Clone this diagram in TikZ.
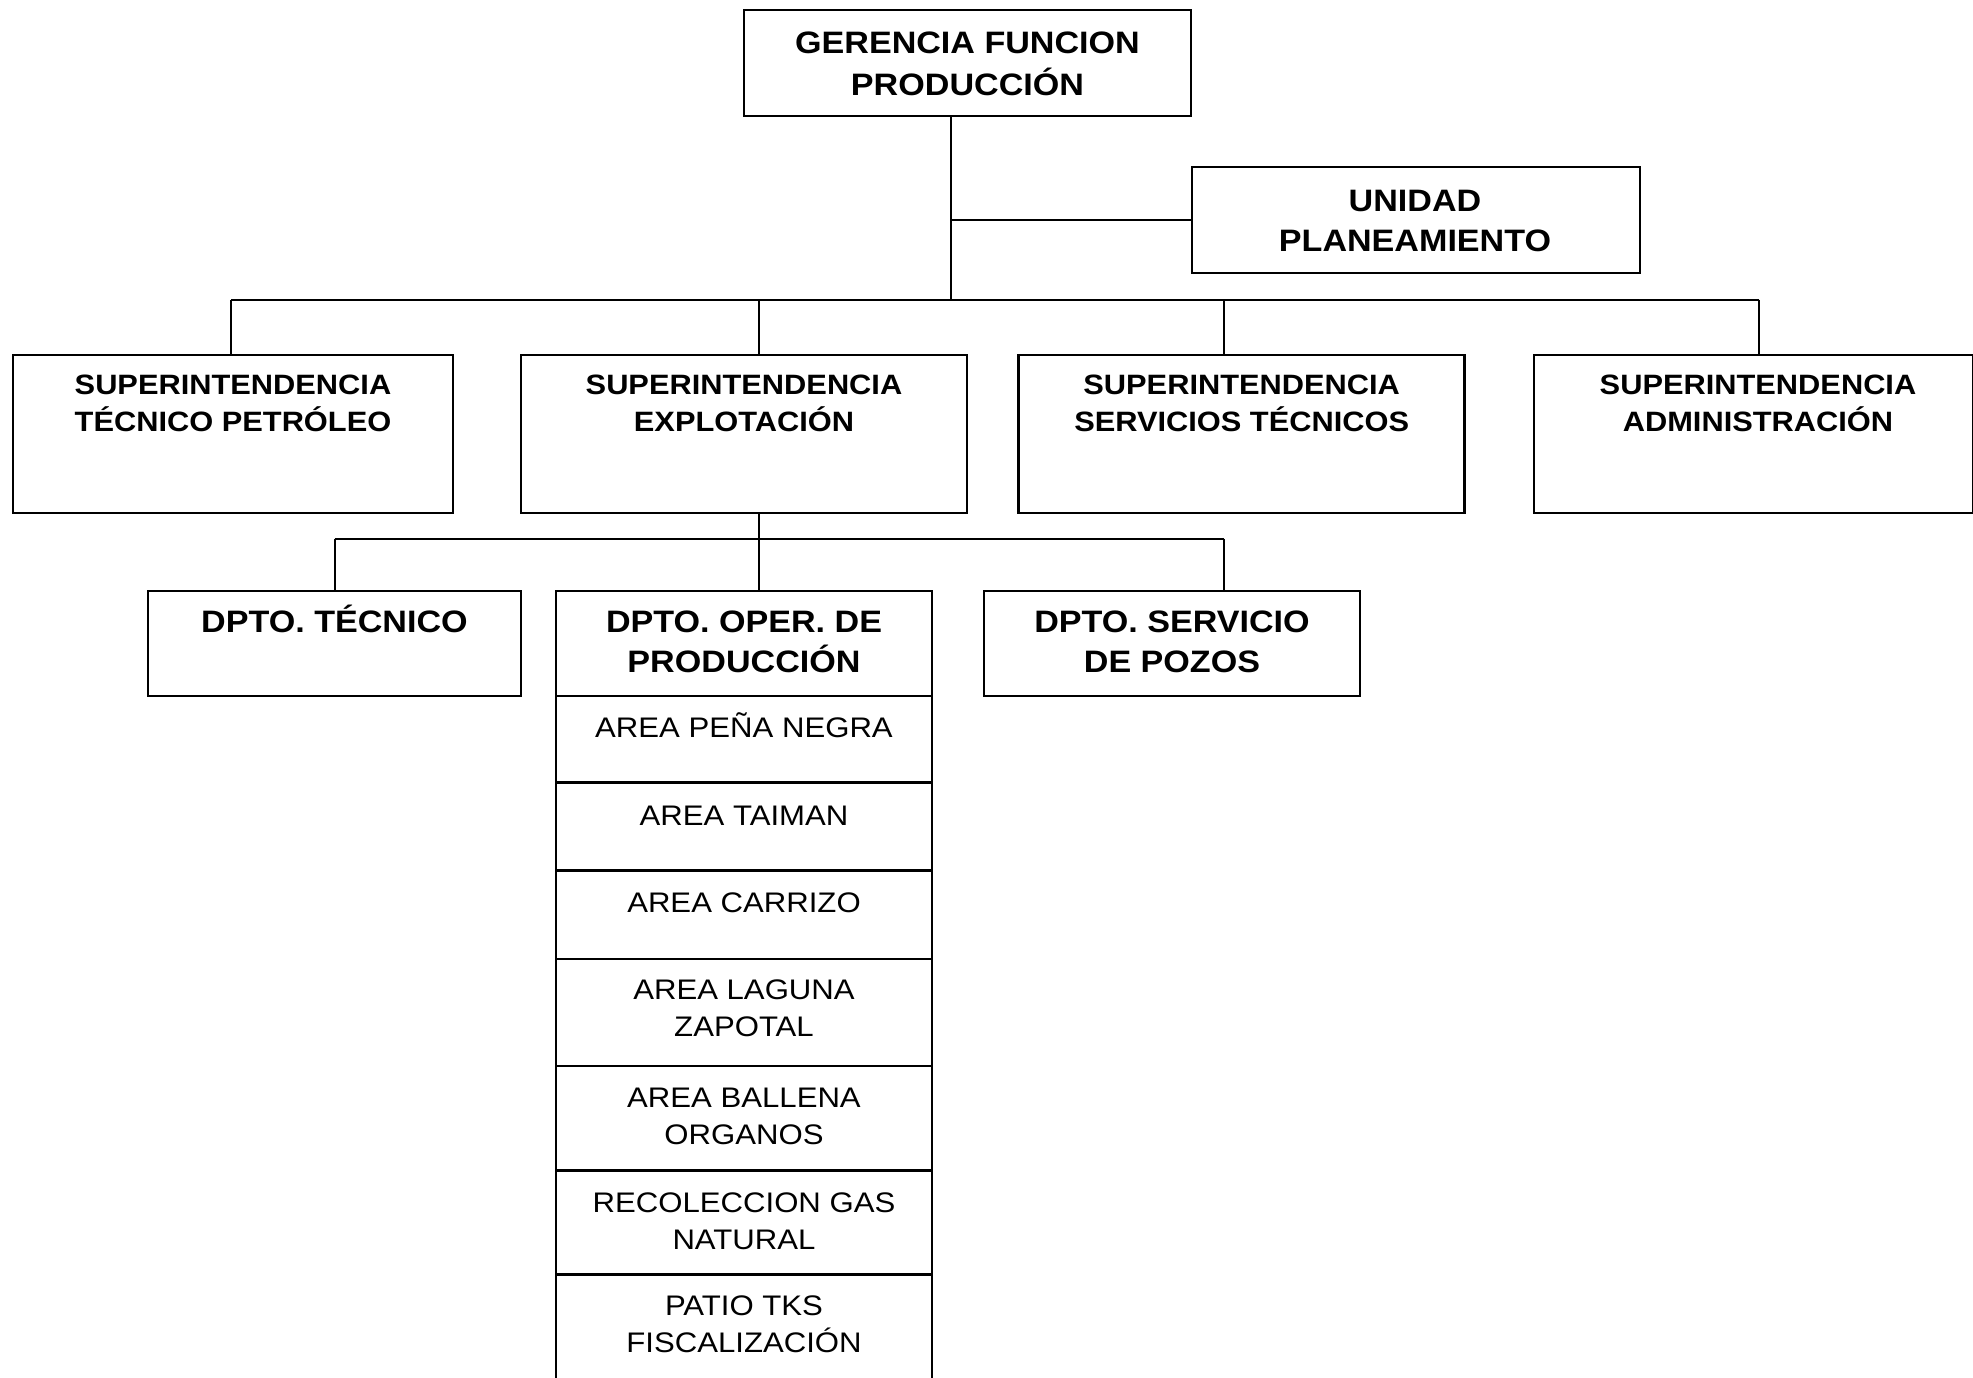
\documentclass[tikz,border=0pt]{standalone}
\usepackage{fontspec}
\setmainfont{Liberation Sans}[FakeStretch=1.1]
\newcommand\tstrut{\rule{0pt}{32pt}}
\begin{document}
\begin{tikzpicture}[x=1pt,y=-1pt,
  box/.style={draw=black,line width=2.6pt,rectangle,inner sep=0pt},
  link/.style={draw=black,line width=2pt},
  bigtxt/.style={font=\bfseries\fontsize{31}{41}\selectfont,align=center,inner sep=0pt,anchor=north},
  midtxt/.style={font=\bfseries\fontsize{28}{37.5}\selectfont,align=center,inner sep=0pt,anchor=north},
  areatxt/.style={font=\fontsize{28.3}{37}\selectfont,align=center,inner sep=0pt,anchor=north}]
\fill[white] (0,0) rectangle (1973,1378);
\useasboundingbox (0,0) rectangle (1973,1378);
% boxes
\node[box,minimum width=447,minimum height=106] (g) at (967.5,63) {};
\node[box,minimum width=448,minimum height=106] (u) at (1416,220) {};
\node[box,minimum width=440,minimum height=158] (b1) at (233,434) {};
\node[box,minimum width=446,minimum height=158] (b2) at (744,434) {};
\node[box,minimum width=446,minimum height=158] (b3) at (1241.7,434) {};
\node[box,minimum width=439,minimum height=158] (b4) at (1753.5,434) {};
\node[box,minimum width=373,minimum height=105] (c1) at (334.5,643.5) {};
\node[box,minimum width=376,minimum height=105] (c2) at (744,643.5) {};
\node[box,minimum width=376,minimum height=105] (c3) at (1172,643.5) {};
% stack under c2
\node[box,minimum width=376,minimum height=86.7] (s1) at (744,739.35) {};
\node[box,minimum width=376,minimum height=88] (s2) at (744,826.7) {};
\node[box,minimum width=376,minimum height=88.1] (s3) at (744,914.75) {};
\node[box,minimum width=376,minimum height=107] (s4) at (744,1012.3) {};
\node[box,minimum width=376,minimum height=104.4] (s5) at (744,1118) {};
\node[box,minimum width=376,minimum height=104.5] (s6) at (744,1222.45) {};
\node[box,minimum width=376,minimum height=107.3] (s7) at (744,1328.35) {};
% texts
\node[bigtxt,font=\bfseries\fontsize{31}{41.6}\selectfont] (tg) at (967.5,21.3) {\tstrut GERENCIA FUNCION\\PRODUCCIÓN};
\node[bigtxt,font=\bfseries\fontsize{31}{40}\selectfont] (tu) at (1415,179.7) {\tstrut UNIDAD\\PLANEAMIENTO};
\node[midtxt] (tb1) at (233,362) {\tstrut SUPERINTENDENCIA\\TÉCNICO PETRÓLEO};
\node[midtxt] (tb2) at (744,362) {\tstrut SUPERINTENDENCIA\\EXPLOTACIÓN};
\node[midtxt] (tb3) at (1241.7,362) {\tstrut SUPERINTENDENCIA\\SERVICIOS TÉCNICOS};
\node[midtxt] (tb4) at (1758,362) {\tstrut SUPERINTENDENCIA\\ADMINISTRACIÓN};
\node[bigtxt,font=\bfseries\fontsize{31}{40}\selectfont] (tc1) at (334.5,600.5) {\tstrut DPTO. TÉCNICO};
\node[bigtxt,font=\bfseries\fontsize{31}{40}\selectfont] (tc2) at (744,600.5) {\tstrut DPTO. OPER. DE\\PRODUCCIÓN};
\node[bigtxt,font=\bfseries\fontsize{31}{40}\selectfont] (tc3) at (1172,600.5) {\tstrut DPTO. SERVICIO\\DE POZOS};
\node[areatxt] (ts1) at (744,705) {\tstrut AREA PEÑA NEGRA};
\node[areatxt] (ts2) at (744,793) {\tstrut AREA TAIMAN};
\node[areatxt] (ts3) at (744,880) {\tstrut AREA CARRIZO};
\node[areatxt] (ts4) at (744,967) {\tstrut AREA LAGUNA\\ZAPOTAL};
\node[areatxt] (ts5) at (744,1075) {\tstrut AREA BALLENA\\ORGANOS};
\node[areatxt] (ts6) at (744,1180.5) {\tstrut RECOLECCION GAS\\NATURAL};
\node[areatxt] (ts7) at (744,1283) {\tstrut PATIO TKS\\FISCALIZACIÓN};
% connector coordinates
\coordinate (tk) at (951,299.5);
\coordinate (d1) at (231,299.5);
\coordinate (d2) at (759,299.5);
\coordinate (d3) at (1224,299.5);
\coordinate (d4) at (1759,299.5);
\coordinate (e0) at (759,538.5);
\coordinate (f1) at (334.5,538.5);
\coordinate (f3) at (1223.5,538.5);
% connectors
\draw[link] (tk |- g.south) -- (tk);
\draw[link] (tk |- u.west) -- (u.west);
\draw[link] (d1) -- (d4);
\draw[link] (d1) -- (d1 |- b1.north);
\draw[link] (d2) -- (d2 |- b2.north);
\draw[link] (d3) -- (d3 |- b3.north);
\draw[link] (d4) -- (d4 |- b4.north);
\draw[link] (e0 |- b2.south) -- (e0);
\draw[link] (f1) -- (f3);
\draw[link] (f1) -- (f1 |- c1.north);
\draw[link] (e0) -- (e0 |- c2.north);
\draw[link] (f3) -- (f3 |- c3.north);
\end{tikzpicture}
\end{document}
